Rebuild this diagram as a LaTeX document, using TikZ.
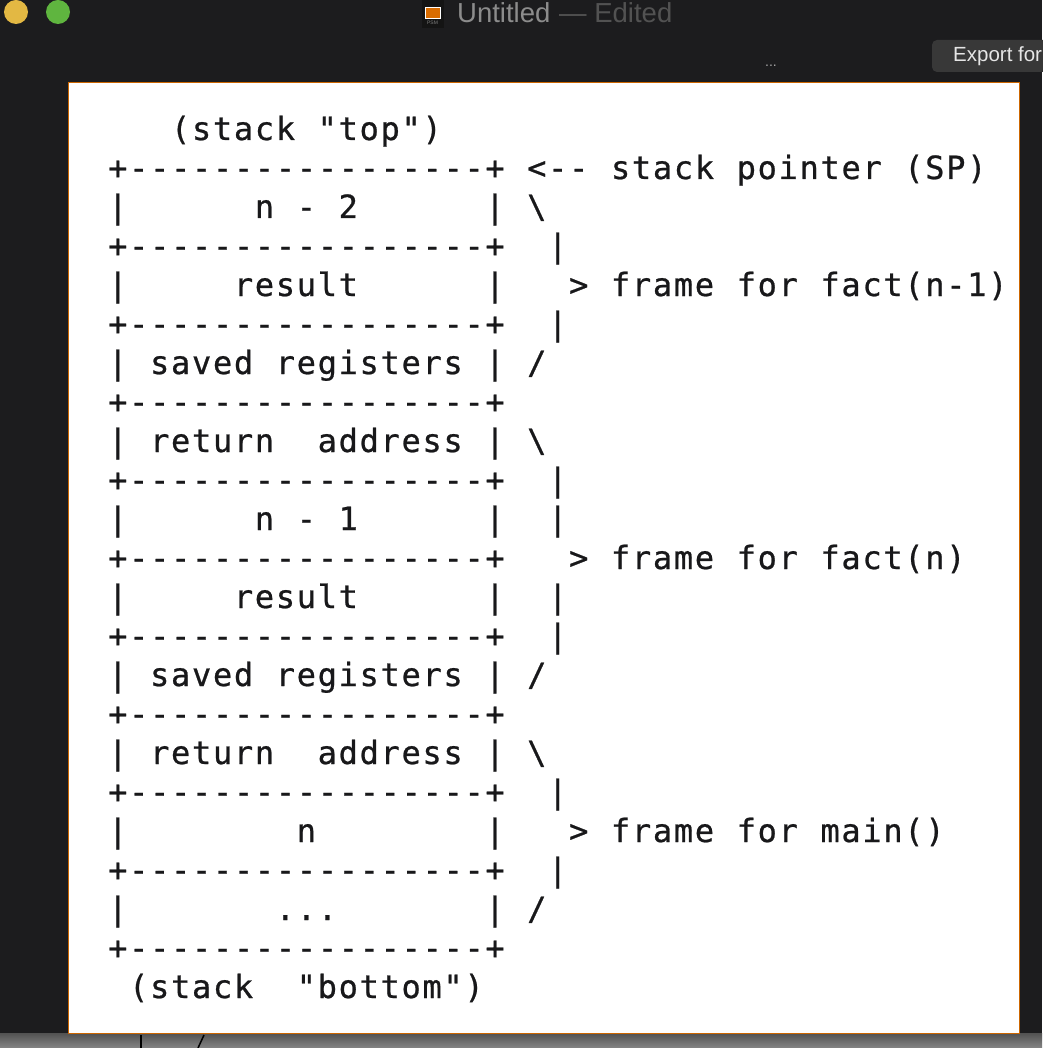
\documentclass[tikz,border=0pt]{standalone}
\usepackage{fontspec}
\setmainfont{Liberation Sans}
\newfontfamily\stackfont{DejaVu Sans Mono}[LetterSpace=5.3,FakeBold=0.7]
\definecolor{chrome}{HTML}{1C1C1E}
\definecolor{inkdark}{HTML}{18181A}
\definecolor{dotyellow}{HTML}{E3B843}
\definecolor{dotgreen}{HTML}{5FB53F}
\tikzset{
  ascii/.style={anchor=base west,inner sep=0pt,text=inkdark,font=\fontsize{32}{32}\stackfont},
  chrometext/.style={anchor=base west,inner sep=0pt,font=\fontsize{27.5}{28}\selectfont},
  dot/.style={circle,minimum size=24pt,inner sep=0pt}
}
\begin{document}
\begin{tikzpicture}[x=1pt,y=-1pt]
  \useasboundingbox (0,0) rectangle (1042,1048);
  % window behind the image
  \fill[chrome] (0,0) rectangle (1042,1048);
  \shade[top color=black!68,bottom color=black!48] (0,1033) rectangle (1042,1048);
  \fill[white] (68.5,82) rectangle (1019.5,1033);
  \draw[orange!80!black,line width=0.6pt] (68.5,1033) -- (68.5,82) -- (1019.5,82) -- (1019.5,1033) -- cycle;
  \draw[black,line width=1.5pt] (141,1035) -- (141,1048);
  \draw[black,line width=1.5pt] (198,1048) -- (204,1035);
  % title bar
  \node[dot,fill=dotyellow] (close) at (16,12) {};
  \node[dot,fill=dotgreen] (zoom) at (58,12) {};
  \fill[black!92] (422,0) rectangle (444,28);
  \node[anchor=center,minimum width=15pt,minimum height=11pt,inner sep=0pt,fill=orange!85!black,draw=white,line width=0.8pt] (icon) at (432.5,12.5) {};
  \node[anchor=base,inner sep=0pt,text=black!50,font=\fontsize{5}{5}\selectfont] (iconlabel) at (432.5,25) {PSM};
  \node[chrometext,text=black!45] (title) at (457,23) {Untitled};
  \node[chrometext,text=black!68] (edited) at (559,23) {— Edited};
  \node[anchor=base,inner sep=0pt,text=black!35,font=\fontsize{14}{14}\selectfont] (more) at (771,67) {...};
  \fill[black!78,rounded corners=5pt] (932,40) rectangle (1060,72);
  \node[anchor=base west,inner sep=0pt,text=black!10,font=\fontsize{20.5}{20.5}\selectfont] (export) at (953,62) {Export for};
  % the stack, in text columns and rows
  \begin{scope}[shift={(108,140)},x=20.95pt,y=-39pt]
    \node[ascii] (top) at (3,0) {(stack};
    \node[ascii] (topq) at (10,0) {"top")};
    \node[ascii] (rule0) at (0,1) {+-----------------+};
    \node[ascii] (sparrow) at (20,1) {<--};
    \node[ascii] (sp) at (24,1) {stack};
    \node[ascii] (spb) at (30,1) {pointer};
    \node[ascii] (spc) at (38,1) {(SP)};
    \node[ascii] (ll2) at (0,2) {|};
    \node[ascii] (a2) at (7,2) {n};
    \node[ascii] (b2) at (9,2) {-};
    \node[ascii] (c2) at (11,2) {2};
    \node[ascii] (lr2) at (18,2) {|};
    \node[ascii] (f2) at (20,2) {\textbackslash};
    \node[ascii] (rule1) at (0,3) {+-----------------+};
    \node[ascii] (f3) at (21,3) {|};
    \node[ascii] (ll4) at (0,4) {|};
    \node[ascii] (a4) at (6,4) {result};
    \node[ascii] (lr4) at (18,4) {|};
    \node[ascii] (f4) at (22,4) {>};
    \node[ascii] (fa) at (24,4) {frame};
    \node[ascii] (fb) at (30,4) {for};
    \node[ascii] (fc) at (34,4) {fact(n-1)};
    \node[ascii] (rule2) at (0,5) {+-----------------+};
    \node[ascii] (f5) at (21,5) {|};
    \node[ascii] (ll6) at (0,6) {|};
    \node[ascii] (a6) at (2,6) {saved};
    \node[ascii] (b6) at (8,6) {registers};
    \node[ascii] (lr6) at (18,6) {|};
    \node[ascii] (f6) at (20,6) {/};
    \node[ascii] (rule3) at (0,7) {+-----------------+};
    \node[ascii] (ll8) at (0,8) {|};
    \node[ascii] (a8) at (2,8) {return};
    \node[ascii] (b8) at (10,8) {address};
    \node[ascii] (lr8) at (18,8) {|};
    \node[ascii] (f8) at (20,8) {\textbackslash};
    \node[ascii] (rule4) at (0,9) {+-----------------+};
    \node[ascii] (f9) at (21,9) {|};
    \node[ascii] (ll10) at (0,10) {|};
    \node[ascii] (a10) at (7,10) {n};
    \node[ascii] (b10) at (9,10) {-};
    \node[ascii] (c10) at (11,10) {1};
    \node[ascii] (lr10) at (18,10) {|};
    \node[ascii] (f10) at (21,10) {|};
    \node[ascii] (rule5) at (0,11) {+-----------------+};
    \node[ascii] (f11) at (22,11) {>};
    \node[ascii] (ga) at (24,11) {frame};
    \node[ascii] (gb) at (30,11) {for};
    \node[ascii] (gc) at (34,11) {fact(n)};
    \node[ascii] (ll12) at (0,12) {|};
    \node[ascii] (a12) at (6,12) {result};
    \node[ascii] (lr12) at (18,12) {|};
    \node[ascii] (f12) at (21,12) {|};
    \node[ascii] (rule6) at (0,13) {+-----------------+};
    \node[ascii] (f13) at (21,13) {|};
    \node[ascii] (ll14) at (0,14) {|};
    \node[ascii] (a14) at (2,14) {saved};
    \node[ascii] (b14) at (8,14) {registers};
    \node[ascii] (lr14) at (18,14) {|};
    \node[ascii] (f14) at (20,14) {/};
    \node[ascii] (rule7) at (0,15) {+-----------------+};
    \node[ascii] (ll16) at (0,16) {|};
    \node[ascii] (a16) at (2,16) {return};
    \node[ascii] (b16) at (10,16) {address};
    \node[ascii] (lr16) at (18,16) {|};
    \node[ascii] (f16) at (20,16) {\textbackslash};
    \node[ascii] (rule8) at (0,17) {+-----------------+};
    \node[ascii] (f17) at (21,17) {|};
    \node[ascii] (ll18) at (0,18) {|};
    \node[ascii] (a18) at (9,18) {n};
    \node[ascii] (lr18) at (18,18) {|};
    \node[ascii] (f18) at (22,18) {>};
    \node[ascii] (ha) at (24,18) {frame};
    \node[ascii] (hb) at (30,18) {for};
    \node[ascii] (hc) at (34,18) {main()};
    \node[ascii] (rule9) at (0,19) {+-----------------+};
    \node[ascii] (f19) at (21,19) {|};
    \node[ascii] (ll20) at (0,20) {|};
    \node[ascii] (a20) at (8,20) {...};
    \node[ascii] (lr20) at (18,20) {|};
    \node[ascii] (f20) at (20,20) {/};
    \node[ascii] (rule10) at (0,21) {+-----------------+};
    \node[ascii] (bottom) at (1,22) {(stack};
    \node[ascii] (bottomq) at (9,22) {"bottom")};
  \end{scope}
\end{tikzpicture}
\end{document}
